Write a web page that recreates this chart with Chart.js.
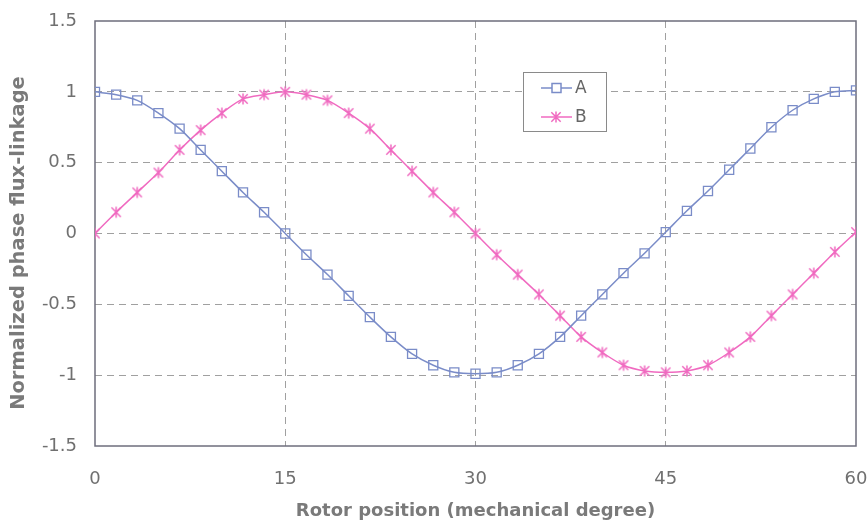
<!DOCTYPE html>
<html>
<head>
<meta charset="utf-8">
<script src="https://cdn.jsdelivr.net/npm/chart.js@4"></script>
<style>
html,body{margin:0;padding:0;background:#fff;}
#wrap{width:868px;height:524px;}
</style>
</head>
<body>
<div id="wrap"><canvas id="c" width="868" height="524"></canvas></div>
<script>
// Rotor position (mechanical degree)
const positions = [0,1.67,3.33,5,6.67,8.33,10,11.67,13.33,15,16.67,18.33,20,21.67,23.33,25,26.67,28.33,30,31.67,33.33,35,36.67,38.33,40,41.67,43.33,45,46.67,48.33,50,51.67,53.33,55,56.67,58.33,60];
// Normalized phase flux-linkage
const seriesA = [1,0.98,0.94,0.85,0.74,0.59,0.44,0.29,0.15,0,-0.15,-0.29,-0.44,-0.59,-0.73,-0.85,-0.93,-0.98,-0.99,-0.98,-0.93,-0.85,-0.73,-0.58,-0.43,-0.28,-0.14,0.01,0.16,0.3,0.45,0.6,0.75,0.87,0.95,1,1.01];
const seriesB = [0,0.15,0.29,0.43,0.59,0.73,0.85,0.95,0.98,1,0.98,0.94,0.85,0.74,0.59,0.44,0.29,0.15,0,-0.15,-0.29,-0.43,-0.58,-0.73,-0.84,-0.93,-0.97,-0.98,-0.97,-0.93,-0.84,-0.73,-0.58,-0.43,-0.28,-0.13,0.01];
const seriesNames = ['A','B'];
const xTicks = [0,15,30,45,60];
const yTicks = [-1.5,-1,-0.5,0,0.5,1,1.5];
const xTitle = 'Rotor position (mechanical degree)';
const yTitle = 'Normalized phase flux-linkage';

const colA = '#7a8cc8';
const colB = '#f06ac0';
const FONT = '"DejaVu Sans", Verdana, sans-serif';

function starCanvas(color){
  const s = 14, c = document.createElement('canvas');
  c.width = s; c.height = s;
  const g = c.getContext('2d');
  g.strokeStyle = color; g.lineWidth = 1.5;
  const m = s/2, r = 5.5;
  g.beginPath();
  g.moveTo(m, m-r); g.lineTo(m, m+r);
  g.moveTo(m-r*0.85, m-r*0.85); g.lineTo(m+r*0.85, m+r*0.85);
  g.moveTo(m+r*0.85, m-r*0.85); g.lineTo(m-r*0.85, m+r*0.85);
  g.stroke();
  return c;
}
const starB = starCanvas(colB);

function pts(vals){ return positions.map((x,i)=>({x:x, y:vals[i]})); }

const boxPlugin = {
  id:'box',
  beforeDatasetsDraw(chart){
    const {ctx, chartArea:a} = chart;
    ctx.save();
    ctx.strokeStyle = '#6e6e7c'; ctx.lineWidth = 1.5;
    ctx.strokeRect(a.left, a.top, a.right-a.left, a.bottom-a.top);
    // y axis title
    ctx.translate(18.5, 243);
    ctx.rotate(-Math.PI/2);
    ctx.fillStyle = '#7a7a7a';
    ctx.font = 'bold 19.5px ' + FONT;
    ctx.textAlign = 'center'; ctx.textBaseline = 'middle';
    ctx.fillText(yTitle, 0, 0);
    ctx.restore();
  },
  afterDraw(chart){
    const ctx = chart.ctx;
    ctx.save();
    const bx=523, by=72, bw=83, bh=59;
    ctx.fillStyle='#fff'; ctx.fillRect(bx,by,bw,bh);
    ctx.strokeStyle='#8a8a8a'; ctx.lineWidth=1; ctx.strokeRect(bx+0.5,by+0.5,bw,bh);
    const rows=[{y:88,c:colA,t:seriesNames[0],m:'rect'},{y:117,c:colB,t:seriesNames[1],m:'star'}];
    rows.forEach(r=>{
      ctx.strokeStyle=r.c; ctx.lineWidth=1.5;
      ctx.beginPath(); ctx.moveTo(541,r.y); ctx.lineTo(572,r.y); ctx.stroke();
      if(r.m==='rect'){
        ctx.fillStyle='#fff'; ctx.fillRect(552,r.y-4.5,9,9);
        ctx.strokeRect(552,r.y-4.5,9,9);
      } else {
        ctx.drawImage(starB, 556-7, r.y-7);
      }
      ctx.fillStyle='#666'; ctx.font='17px ' + FONT;
      ctx.textBaseline='middle'; ctx.textAlign='left';
      ctx.fillText(r.t, 575, r.y+1);
    });
    ctx.restore();
  }
};

new Chart(document.getElementById('c'), {
  type:'line',
  data:{
    datasets:[
      {label:seriesNames[0], data:pts(seriesA), borderColor:colA, backgroundColor:'rgba(255,255,255,0)', borderWidth:1.5,
       pointStyle:'rect', pointRadius:6.4, pointBorderColor:colA, pointBackgroundColor:'rgba(255,255,255,0)', pointBorderWidth:1.3, tension:0.3},
      {label:seriesNames[1], data:pts(seriesB), borderColor:colB, backgroundColor:colB, borderWidth:1.5,
       pointStyle:starB, pointRadius:6, tension:0.3}
    ]
  },
  options:{
    responsive:false, animation:false,
    layout:{padding:{top:21,right:12,left:0,bottom:0}},
    plugins:{legend:{display:false}, tooltip:{enabled:false}},
    scales:{
      x:{type:'linear', min:0, max:60,
        afterBuildTicks(s){ s.ticks = xTicks.map(v=>({value:v})); },
        afterFit(s){ s.height = 78; s.paddingLeft = 0; s.paddingRight = 0; },
        ticks:{color:'#707070', font:{family:FONT, size:18}, padding:23, callback:v=>String(v)},
        grid:{color:(c)=> (c.tick && (c.tick.value===0||c.tick.value===60)) ? 'rgba(0,0,0,0)' : '#a0a0a0', lineWidth:1, drawTicks:false},
        border:{display:false, dash:[7,5]},
        title:{display:true, text:xTitle, color:'#7a7a7a', font:{family:FONT, size:18, weight:'bold'}, padding:{top:0,bottom:2}}
      },
      y:{type:'linear', min:-1.5, max:1.5,
        afterBuildTicks(s){ s.ticks = yTicks.map(v=>({value:v})); },
        afterFit(s){ s.width = 95; s.paddingTop = 0; s.paddingBottom = 0; },
        ticks:{color:'#707070', font:{family:FONT, size:18}, padding:18, callback:v=>String(v)},
        grid:{color:(c)=> (c.tick && Math.abs(c.tick.value)===1.5) ? 'rgba(0,0,0,0)' : '#a0a0a0', lineWidth:1, drawTicks:false},
        border:{display:false, dash:[7,5]},
        title:{display:false}
      }
    }
  },
  plugins:[boxPlugin]
});
</script>
</body>
</html>
